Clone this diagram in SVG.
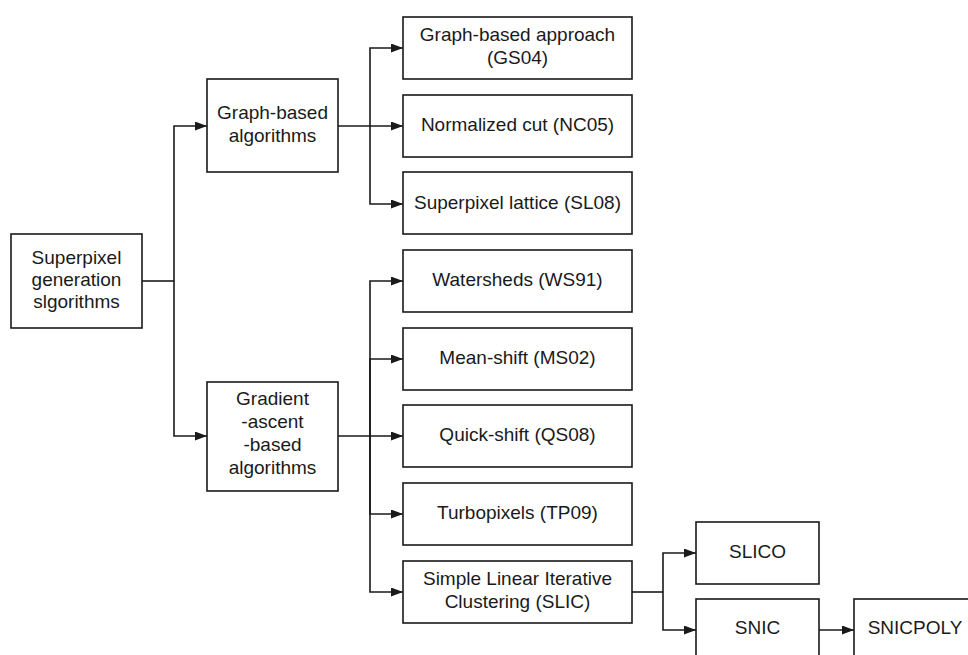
<svg xmlns="http://www.w3.org/2000/svg" width="968" height="655" viewBox="0 0 968 655">
<style>
.box{fill:#fff;stroke:#1a1a1a;stroke-width:1.6}
.lbl{font-family:"Liberation Sans",Arial,sans-serif;font-size:19px;fill:#1a1a1a;text-anchor:middle}
.ln{fill:none;stroke:#1a1a1a;stroke-width:1.6}
.arr{marker-end:url(#ah)}
</style>
<defs>
<marker id="ah" markerUnits="userSpaceOnUse" markerWidth="13" markerHeight="10" refX="12" refY="4.5" orient="auto">
<path d="M0,0 L12,4.5 L0,9 z" fill="#1a1a1a"/>
</marker>
</defs>
<rect width="968" height="655" fill="#fff"/>
<g id="connectors">
<path class="ln" d="M142,281 H174"/>
<path class="ln arr" d="M174,281 V126 H207"/>
<path class="ln arr" d="M174,281 V436 H207"/>
<path class="ln arr" d="M338,126 H403"/>
<path class="ln arr" d="M370,126 V48 H403"/>
<path class="ln arr" d="M370,126 V204 H403"/>
<path class="ln arr" d="M338,436 H403"/>
<path class="ln arr" d="M370,436 V281 H403"/>
<path class="ln arr" d="M370,436 V359 H403"/>
<path class="ln arr" d="M370,436 V514 H403"/>
<path class="ln arr" d="M370,436 V592 H403"/>
<path class="ln" d="M632,592 H663"/>
<path class="ln arr" d="M663,592 V553 H696"/>
<path class="ln arr" d="M663,592 V630 H696"/>
<path class="ln arr" d="M819,630 H854"/>
</g>
<g id="root">
<rect class="box" x="11" y="234" width="131" height="94"/>
<text class="lbl" x="76.5" y="263.5">Superpixel</text>
<text class="lbl" x="76.5" y="285.5">generation</text>
<text class="lbl" x="76.5" y="307.5">slgorithms</text>
</g>
<g id="graph">
<rect class="box" x="207" y="79" width="131" height="93"/>
<text class="lbl" x="272.5" y="119">Graph-based</text>
<text class="lbl" x="272.5" y="141.5">algorithms</text>
</g>
<g id="gradient">
<rect class="box" x="207" y="382" width="131" height="109"/>
<text class="lbl" x="272.5" y="405">Gradient</text>
<text class="lbl" x="272.5" y="428">-ascent</text>
<text class="lbl" x="272.5" y="451">-based</text>
<text class="lbl" x="272.5" y="474">algorithms</text>
</g>
<g id="gs04">
<rect class="box" x="403" y="17" width="229" height="62"/>
<text class="lbl" x="517.5" y="40.5">Graph-based approach</text>
<text class="lbl" x="517.5" y="63.5">(GS04)</text>
</g>
<g id="nc05">
<rect class="box" x="403" y="95" width="229" height="62"/>
<text class="lbl" x="517.5" y="130.5">Normalized cut (NC05)</text>
</g>
<g id="sl08">
<rect class="box" x="403" y="172" width="229" height="62"/>
<text class="lbl" x="517.5" y="208.5">Superpixel lattice (SL08)</text>
</g>
<g id="ws91">
<rect class="box" x="403" y="250" width="229" height="62"/>
<text class="lbl" x="517.5" y="285.5">Watersheds (WS91)</text>
</g>
<g id="ms02">
<rect class="box" x="403" y="328" width="229" height="62"/>
<text class="lbl" x="517.5" y="363.5">Mean-shift (MS02)</text>
</g>
<g id="qs08">
<rect class="box" x="403" y="405" width="229" height="62"/>
<text class="lbl" x="517.5" y="440.5">Quick-shift (QS08)</text>
</g>
<g id="tp09">
<rect class="box" x="403" y="483" width="229" height="62"/>
<text class="lbl" x="517.5" y="518.5">Turbopixels (TP09)</text>
</g>
<g id="slic">
<rect class="box" x="403" y="561" width="229" height="62"/>
<text class="lbl" x="517.5" y="584.5">Simple Linear Iterative</text>
<text class="lbl" x="517.5" y="607.5">Clustering (SLIC)</text>
</g>
<g id="slico">
<rect class="box" x="696" y="522" width="123" height="62"/>
<text class="lbl" x="757.5" y="557.5">SLICO</text>
</g>
<g id="snic">
<rect class="box" x="696" y="599" width="123" height="62"/>
<text class="lbl" x="757.5" y="634">SNIC</text>
</g>
<g id="snicpoly">
<rect class="box" x="854" y="599" width="122" height="62"/>
<text class="lbl" x="915" y="634">SNICPOLY</text>
</g>
</svg>
